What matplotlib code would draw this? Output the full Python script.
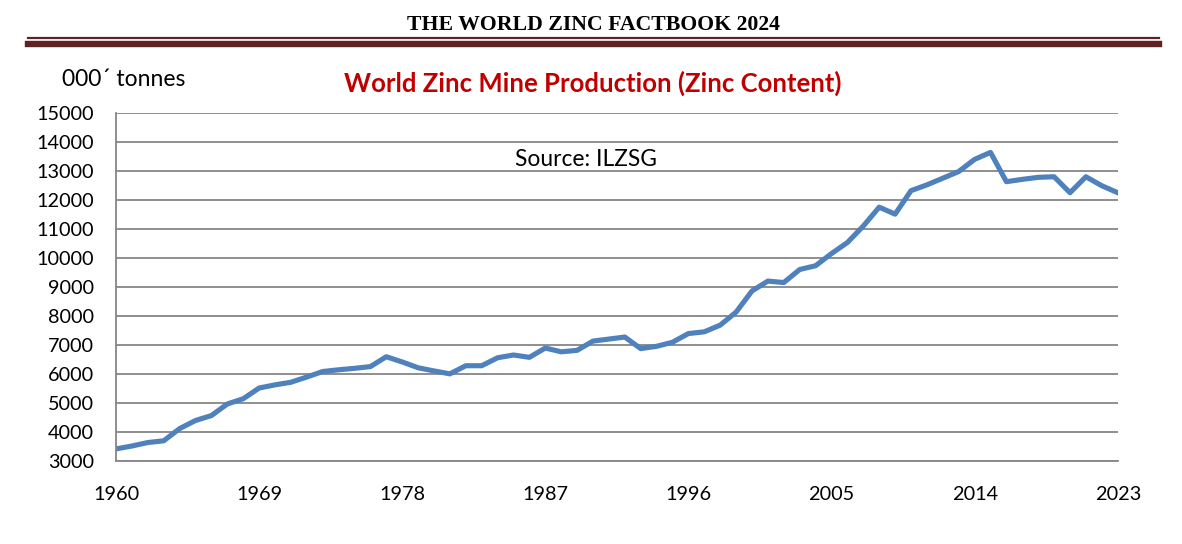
import numpy as np
import matplotlib
matplotlib.use("Agg")
import matplotlib.pyplot as plt
from matplotlib.lines import Line2D

# World zinc mine production, '000 tonnes
years = list(range(1960, 2024))
production = [
    3400, 3500, 3620, 3680, 4100, 4380, 4550, 4950, 5130, 5500,   # 1960-69
    5610, 5700, 5880, 6070, 6130, 6180, 6240, 6580, 6400, 6200,   # 1970-79
    6090, 5990, 6270, 6270, 6545, 6640, 6560, 6880, 6750, 6800,   # 1980-89
    7120, 7190, 7260, 6860, 6940, 7080, 7380, 7440, 7670, 8120,   # 1990-99
    8850, 9190, 9140, 9590, 9720, 10140, 10520, 11090, 11740, 11500,  # 2000-09
    12310, 12510, 12740, 12970, 13390, 13630, 12620, 12700, 12770, 12790,  # 2010-19
    12240, 12790, 12480, 12240,   # 2020-23
]
x_ticks = [1960, 1969, 1978, 1987, 1996, 2005, 2014, 2023]
y_ticks = list(range(3000, 15001, 1000))

W, H = 1182, 544
fig = plt.figure(figsize=(W / 100, H / 100), dpi=100)
fig.patch.set_facecolor("white")

body_font = ["Lato", "DejaVu Sans"]
grey = "#868686"
maroon = "#5F2222"

# header with the double rule underneath
fig.text(593 / W, 1 - 24.5 / H, "THE WORLD ZINC FACTBOOK 2024", ha="center", va="center",
         fontsize=15.7, fontweight="bold", family=["Liberation Serif", "DejaVu Serif"])
fig.add_artist(Line2D([28 / W, 1159 / W], [1 - 37.7 / H] * 2, transform=fig.transFigure,
                      color=maroon, lw=1.6))
fig.add_artist(Line2D([28 / W, 1159 / W], [1 - 44.2 / H] * 2, transform=fig.transFigure,
                      color=maroon, lw=4.6))

ax = fig.add_axes([116 / W, 1 - 460.5 / H, (1117.7 - 116) / W, (460.5 - 112.7) / H])
ax.plot(years, production, color="#4F81BD", lw=3.7, solid_joinstyle="round")

ax.set_xlim(1960, 2023)
ax.set_ylim(3000, 15000)
ax.set_xticks(x_ticks)
ax.set_yticks(y_ticks)
ax.grid(axis="y", color=grey, lw=1.3)
ax.set_axisbelow(True)
for side in ["top", "right"]:
    ax.spines[side].set_visible(False)
for side in ["left", "bottom"]:
    ax.spines[side].set_color(grey)
    ax.spines[side].set_linewidth(1.3)
ax.tick_params(length=0, labelsize=14.3)
ax.tick_params(axis="y", pad=16)
ax.tick_params(axis="x", pad=18)
for lab in ax.get_xticklabels() + ax.get_yticklabels():
    lab.set_family(body_font)

fig.text(62 / W, 1 - 80 / H, "000\u00b4 tonnes", ha="left", va="center",
         fontsize=16.5, family=body_font)
fig.text(593 / W, 1 - 83.5 / H, "World Zinc Mine Production (Zinc Content)", ha="center",
         va="center", fontsize=18.5, fontweight="bold", color="#C00000", family=body_font)
fig.text(586 / W, 1 - 159 / H, "Source: ILZSG", ha="center", va="center",
         fontsize=16.4, family=body_font)

fig.savefig("out.png", dpi=100)
